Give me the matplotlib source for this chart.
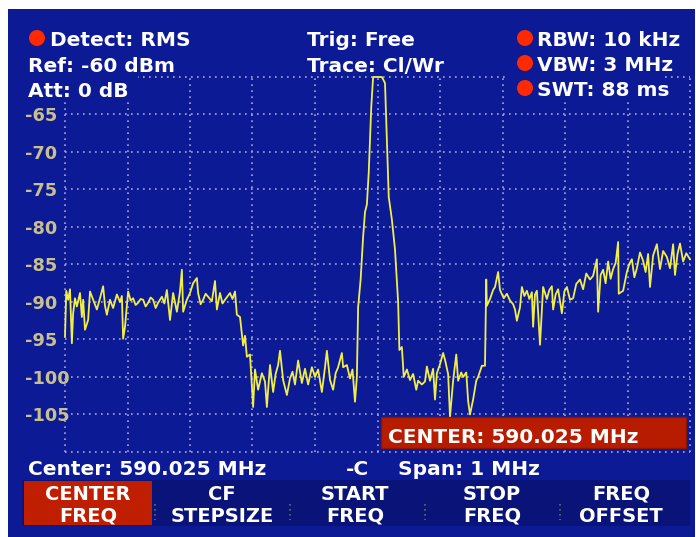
import numpy as np
import matplotlib
matplotlib.use("Agg")
import matplotlib.pyplot as plt
from matplotlib.patches import Rectangle, Ellipse

# spectrum analyser screen
center_mhz = 590.025
span_khz = 1000
ref_dbm = -60

offset_khz = [
    -500, -498, -495, -492, -489, -487, -484, -481, -476, -473, -471, -468, -463, -460, -455, -449, -444,
    -439, -436, -433, -428, -423, -417, -412, -409, -407, -404, -399, -395, -391, -387, -383, -379, -375, -371, -367, -363, -359,
    -355, -351, -345, -341, -337, -332, -327, -321, -316, -313, -311, -305, -300, -295, -289, -287,
    -283, -279, -275, -271, -265, -260, -257, -252, -248, -244, -236, -232, -228, -225, -220, -215, -212, -209,
    -204, -201, -199, -196, -191, -185, -180, -177, -172, -167, -163, -159, -156, -151, -145,
    -140, -136, -132, -127, -121, -116, -111, -105, -100, -95, -89, -84, -81, -76, -71,
    -67, -63, -57, -55, -49, -44, -40, -36, -33, -31, -27, -23, -20, -17, -14, -10,
    -7, 0, 7, 12, 15, 18, 23, 28, 33, 35, 39, 42, 47, 52,
    57, 62, 65, 71, 76, 79, 84, 89, 92, 95, 100, 105, 108, 113,
    116, 121, 126, 129, 134, 137, 142, 145, 148, 153, 158, 161, 167, 172,
    174, 175, 180, 185, 188, 193, 196, 202, 207, 212, 217, 220, 223, 228, 231, 235, 239,
    243, 247, 249, 252, 255, 260, 265, 271, 275, 279, 281, 285, 289, 295, 299, 303, 308, 313, 318, 324, 329,
    334, 340, 345, 351, 353, 357, 361, 365, 369, 373, 377, 381, 385, 386, 393, 399, 403, 407, 411, 415, 420, 425, 429, 433,
    436, 441, 447, 452, 457, 463, 468, 473, 476, 480, 484, 489, 494, 500,
]
level_dbm = [
    -94.6, -88.5, -89.7, -88.3, -95.5, -91.5, -89.5, -90.6, -88.8, -92.0, -89.7, -93.7, -92.4, -88.6, -89.7, -91.0, -89.5,
    -87.9, -90.5, -91.7, -89.7, -90.8, -89.0, -90.0, -89.2, -94.9, -93.3, -88.6, -89.8, -89.5, -90.4, -90.1, -89.6, -89.7, -90.6, -90.1, -89.4, -89.7,
    -90.8, -90.1, -89.3, -90.2, -88.4, -92.4, -88.8, -91.3, -88.6, -85.7, -91.3, -89.7, -88.8, -87.5, -86.8, -88.8,
    -90.3, -89.7, -88.9, -89.3, -89.9, -87.2, -91.0, -88.8, -90.2, -89.7, -88.8, -89.6, -88.6, -91.7, -92.0, -95.8, -94.5, -97.3,
    -97.0, -101.3, -104.0, -99.0, -101.7, -99.5, -100.6, -104.0, -98.4, -102.0, -99.6, -98.4, -96.5, -100.4, -102.4,
    -100.2, -99.3, -101.0, -97.8, -100.8, -98.9, -101.0, -98.7, -100.0, -99.0, -102.0, -98.7, -96.5, -100.4, -101.7,
    -99.5, -98.7, -96.8, -98.7, -98.4, -100.2, -99.0, -103.3, -100.0, -90.7, -87.0, -81.3, -78.0, -77.0, -72.7, -64.0,
    -60.0, -60.0, -60.0, -60.8, -68.6, -76.0, -79.0, -83.0, -90.0, -96.4, -96.0, -100.0, -99.0, -100.4,
    -99.6, -101.7, -100.5, -101.0, -100.6, -98.6, -100.5, -98.9, -103.0, -99.5, -98.3, -96.8, -97.7, -99.6,
    -105.3, -100.5, -97.0, -100.5, -99.4, -100.0, -99.4, -103.2, -105.0, -103.0, -100.5, -100.0, -98.5, -98.5,
    -87.0, -90.5, -89.6, -88.4, -88.0, -86.0, -88.4, -89.5, -88.9, -89.8, -90.3, -91.0, -92.5, -90.7, -88.0, -89.2, -88.5,
    -89.6, -88.7, -93.3, -89.0, -88.5, -95.7, -88.0, -89.6, -88.4, -87.9, -91.0, -89.0, -88.3, -91.5, -88.6, -88.0, -89.7, -89.5, -87.6, -87.0, -88.3,
    -86.2, -87.0, -86.5, -84.3, -91.3, -86.4, -85.7, -87.5, -84.6, -86.9, -85.6, -84.8, -82.0, -88.9, -88.5, -86.0, -84.9, -84.3, -86.7, -85.5, -83.4, -84.5, -86.0, -83.6,
    -88.0, -83.8, -82.3, -85.6, -83.2, -84.0, -85.5, -82.3, -86.4, -83.6, -82.2, -84.6, -83.5, -84.3,
]

ytick_vals = [-60, -65, -70, -75, -80, -85, -90, -95, -100, -105, -110]
ytick_labels = ["", "-65", "-70", "-75", "-80", "-85", "-90", "-95", "-100", "-105", ""]

softkeys = ["CENTER\nFREQ", "CF\nSTEPSIZE", "START\nFREQ", "STOP\nFREQ", "FREQ\nOFFSET"]

BLUE = "#0c1a96"
DARK = "#0a1478"
RED = "#c01e00"
DOT = "#ff2a00"
YEL = "#f2ee48"
GRID = "#a4aac8"
KHAKI = "#c8c08c"

W, H = 696, 537
fig = plt.figure(figsize=(W / 100, H / 100), dpi=100)
fig.patch.set_facecolor("white")


def box(x0, y0, x1, y1, color, z=1, ec="none"):
    fig.add_artist(Rectangle((x0 / W, 1 - y1 / H), (x1 - x0) / W, (y1 - y0) / H,
                             transform=fig.transFigure, facecolor=color, edgecolor=ec,
                             lw=1, zorder=z))


def label(x, y, s, size=14.5, ha="left", z=5, color="white"):
    fig.text(x / W, 1 - y / H, s, color=color, fontsize=size, fontweight="bold",
             ha=ha, va="baseline", zorder=z, family="DejaVu Sans")


def dot(x, y):
    fig.add_artist(Ellipse((x / W, 1 - y / H), 16 / W, 16 / H, transform=fig.transFigure,
                           facecolor=DOT, edgecolor="none", zorder=5))


# screen background
box(8, 9, 695, 537, BLUE, z=-5)

ax = fig.add_axes([65 / W, 1 - 452 / H, 625 / W, 375 / H])
ax.set_facecolor("none")
ax.set_zorder(0)
freq = [center_mhz + k / 1000 for k in offset_khz]
ax.plot(freq, level_dbm, color=YEL, lw=1.3, clip_on=False, zorder=3)
ax.set_xlim(center_mhz - span_khz / 2000, center_mhz + span_khz / 2000)
ax.set_ylim(-110, ref_dbm)
ax.set_xticks(np.linspace(center_mhz - span_khz / 2000, center_mhz + span_khz / 2000, 11))
ax.set_xticklabels([])
ax.set_yticks(ytick_vals)
ax.set_yticklabels(ytick_labels, fontweight="bold", ha="left", color=KHAKI, fontsize=12.8)
ax.tick_params(length=0)
ax.tick_params(axis="y", pad=29)
for s in ax.spines.values():
    s.set_visible(False)
ax.grid(True, color=GRID, linestyle=(0, (1, 2.6)), lw=1.2, clip_on=False)

# text blocks that hide the grid under them
box(8, 73, 138, 100, BLUE, z=2)
box(507, 73, 665, 100, BLUE, z=2)

# header
dot(37, 38)
label(50, 46, "Detect: RMS")
label(28, 72, "Ref: -60 dBm")
label(28, 97, "Att: 0 dB")
label(307, 46, "Trig: Free")
label(307, 72, "Trace: Cl/Wr")
for yy, s in [(38, "RBW: 10 kHz"), (63, "VBW: 3 MHz"), (88, "SWT: 88 ms")]:
    dot(525, yy)
    label(537, yy + 8, s)

# marker box
box(381, 417, 686, 448, "#b81c00", z=4, ec="#8a1400")
label(388, 443, "CENTER: 590.025 MHz")

# footer
label(28, 475, "Center: 590.025 MHz")
label(346, 475, "-C")
label(398, 475, "Span: 1 MHz")

box(22, 480, 690, 526, DARK, z=3)
box(24, 481, 152, 525, RED, z=4)
centers = [88, 222, 355, 492, 621]
for cx, s in zip(centers, softkeys):
    top, bot = s.split("\n")
    label(cx, 500, top, size=14, ha="center")
    label(cx, 522, bot, size=14, ha="center")
for sx in [155, 290, 425, 560]:
    fig.add_artist(plt.Line2D([sx / W, sx / W], [1 - 504 / H, 1 - 520 / H],
                              transform=fig.transFigure, color="#4a7a5a",
                              linestyle=(0, (1, 2)), lw=1.2, zorder=5))

fig.savefig("out.png", dpi=100)
